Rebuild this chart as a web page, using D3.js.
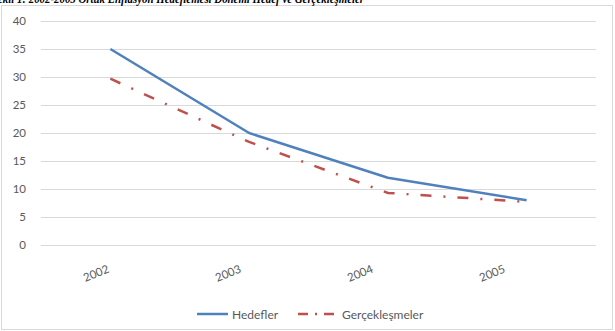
<!DOCTYPE html>
<html><head><meta charset="utf-8">
<script src="https://cdn.jsdelivr.net/npm/d3@7"></script>
<style>body{margin:0;background:#fff}svg{display:block}</style>
</head><body>
<svg id="c" width="615" height="331"></svg>
<script>
const categories = ["2002", "2003", "2004", "2005"];
const hedefler = [35, 20, 12, 8];
const gerceklesmeler = [29.7, 18.4, 9.3, 7.7];
const yTicks = [0, 5, 10, 15, 20, 25, 30, 35, 40];
const seriesNames = ["Hedefler", "Gerçekleşmeler"];
const titleText = "Şekil 1: 2002-2005 Örtük Enflasyon Hedeflemesi Dönemi Hedef ve Gerçekleşmeler";

const svg = d3.select("#c");
const font = "Lato, 'Open Sans', sans-serif";

// chart border
svg.append("rect").attr("x", 1.5).attr("y", 5.5).attr("width", 611).attr("height", 324)
  .attr("fill", "#fff").attr("stroke", "#d9d9d9");

// title (cut at the top edge as in the source image)
svg.append("text").attr("x", -8).attr("y", 3)
  .attr("font-family", "'Liberation Serif', serif").attr("font-weight", "bold")
  .attr("font-style", "italic").attr("font-size", 12).attr("fill", "#000")
  .attr("textLength", 372).attr("lengthAdjust", "spacingAndGlyphs")
  .text(titleText);

const x = d3.scaleBand().domain(categories).range([41, 596]);
const cx = d => x(d) + x.bandwidth() / 2;
const y = d3.scaleLinear().domain([0, 40]).range([245, 21]);

// gridlines + y labels
const yAxis = d3.axisLeft(y).tickValues(yTicks).tickSize(-(596 - 41)).tickPadding(15);
const gy = svg.append("g").attr("transform", "translate(41,0)").call(yAxis);
gy.select(".domain").remove();
gy.selectAll(".tick line").attr("stroke", "#d9d9d9").attr("stroke-width", 1);
gy.selectAll(".tick text").attr("font-family", font).attr("font-size", 11.5).attr("fill", "#595959");

// x labels (rotated)
const xl = d3.scalePoint().domain(categories).range([110, 506]);
svg.append("g").selectAll("text").data(categories).join("text")
  .attr("transform", d => `translate(${xl(d)},${272}) rotate(-22)`)
  .attr("text-anchor", "end")
  .attr("font-family", font).attr("font-size", 11.5).attr("fill", "#595959")
  .text(d => d);

const line = d3.line().x((d, i) => cx(categories[i])).y(d => y(d));

svg.append("path").datum(hedefler).attr("d", line)
  .attr("fill", "none").attr("stroke", "#4f81bd").attr("stroke-width", 2.5)
  .attr("stroke-linejoin", "round");
svg.append("path").datum(gerceklesmeler).attr("d", line)
  .attr("fill", "none").attr("stroke", "#c0504d").attr("stroke-width", 2.5)
  .attr("stroke-dasharray", "11,12,2,12");

// legend
const lg = svg.append("g");
lg.append("line").attr("x1", 197).attr("x2", 228).attr("y1", 314).attr("y2", 314)
  .attr("stroke", "#4f81bd").attr("stroke-width", 2.5);
lg.append("text").attr("x", 232).attr("y", 318.5).attr("font-family", font).attr("font-size", 12)
  .attr("fill", "#595959").text(seriesNames[0]);
lg.append("line").attr("x1", 298).attr("x2", 336).attr("y1", 314).attr("y2", 314)
  .attr("stroke", "#c0504d").attr("stroke-width", 2.5).attr("stroke-dasharray", "10,7,2,7");
lg.append("text").attr("x", 342).attr("y", 318.5).attr("font-family", font).attr("font-size", 12)
  .attr("fill", "#595959").text(seriesNames[1]);
</script>
</body></html>
